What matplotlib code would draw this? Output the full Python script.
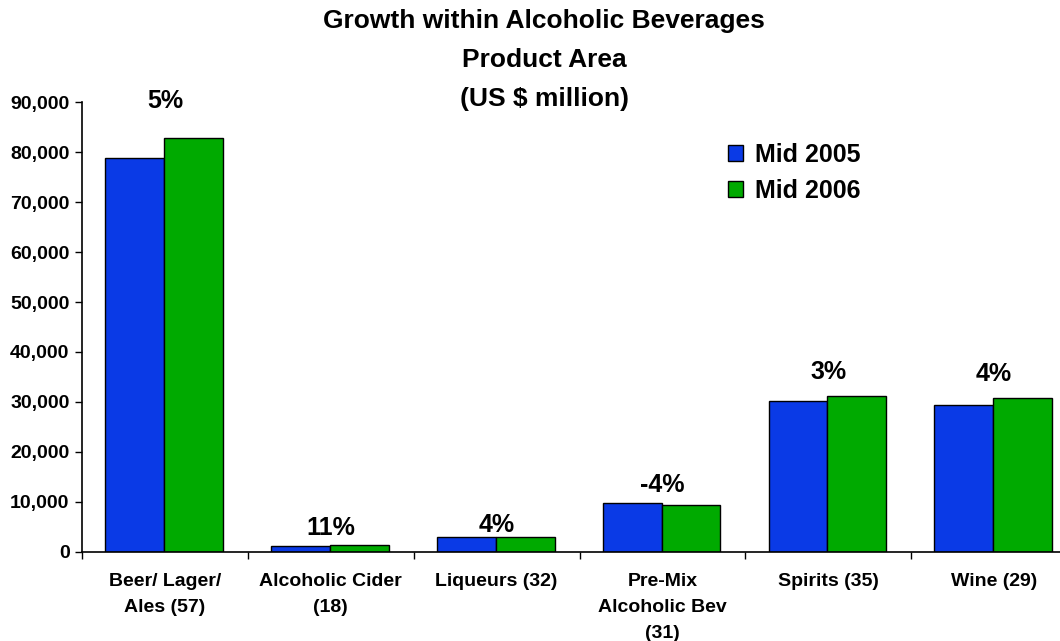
import numpy as np
import matplotlib.pyplot as plt
from matplotlib.patches import Patch
from matplotlib.ticker import FuncFormatter, FixedLocator

plt.rcParams['font.family'] = ['Liberation Sans', 'DejaVu Sans']
plt.rcParams['font.weight'] = 'bold'

categories = ['Beer/ Lager/\nAles (57)', 'Alcoholic Cider\n(18)', 'Liqueurs (32)',
              'Pre-Mix\nAlcoholic Bev\n(31)', 'Spirits (35)', 'Wine (29)']
mid_2005 = [78900, 1200, 2850, 9850, 30150, 29300]
mid_2006 = [82900, 1330, 2960, 9450, 31150, 30700]
growth = ['5%', '11%', '4%', '-4%', '3%', '4%']
series_names = ['Mid 2005', 'Mid 2006']

# extra lift for the growth labels, in points
label_lift = [18, 4, 0, 4, 9, 9]

blue = '#0a3ae6'
green = '#00aa00'

fig = plt.figure(figsize=(10.6, 6.41), dpi=100)
ax = fig.add_axes([82 / 1060, 89.3 / 641, 995 / 1060, 449.4 / 641])

x = np.arange(len(categories))
w = 0.355
left = 0.14
ax.bar(x + left, mid_2005, width=w, align='edge', color=blue, edgecolor='black', linewidth=1)
ax.bar(x + left + w, mid_2006, width=w, align='edge', color=green, edgecolor='black', linewidth=1)

for i, txt in enumerate(growth):
    top = max(mid_2005[i], mid_2006[i])
    ax.annotate(txt, (x[i] + 0.5, top), xytext=(0, label_lift[i]), textcoords='offset points',
                ha='center', va='bottom', fontsize=18, fontweight='bold')

ax.set_xlim(0, len(categories))
ax.set_ylim(0, 90000)
ax.yaxis.set_major_locator(FixedLocator(np.arange(0, 90001, 10000)))
ax.yaxis.set_major_formatter(FuncFormatter(lambda v, p: f'{int(v):,}'))

ax.set_xticks(x + 0.5)
ax.set_xticklabels(categories, fontsize=14, fontweight='bold')
for lab in ax.get_xticklabels():
    lab.set_linespacing(1.7)
ax.set_xticks(np.arange(len(categories) + 1), minor=True)
ax.tick_params(axis='x', which='major', length=0, pad=15)
ax.tick_params(axis='x', which='minor', length=5, width=1)
ax.tick_params(axis='y', length=5, width=1, labelsize=14, pad=4)
for lab in ax.get_yticklabels():
    lab.set_fontweight('bold')

for s in ['top', 'right']:
    ax.spines[s].set_visible(False)
for s in ['left', 'bottom']:
    ax.spines[s].set_linewidth(1.2)

fig.text(544 / 1060, 1 - 9 / 641, 'Growth within Alcoholic Beverages\nProduct Area\n(US $ million)',
         ha='center', va='top', fontsize=19, fontweight='bold', linespacing=1.78)

handles = [Patch(facecolor=blue, edgecolor='black'), Patch(facecolor=green, edgecolor='black')]
fig.legend(handles, series_names, loc='upper left', bbox_to_anchor=(705 / 1060, 1 - 120 / 641),
           frameon=False, handlelength=0.6, handleheight=0.6,
           handletextpad=0.5, labelspacing=0.5, prop={'weight': 'bold', 'size': 18})

fig.savefig('out.png', dpi=100)
